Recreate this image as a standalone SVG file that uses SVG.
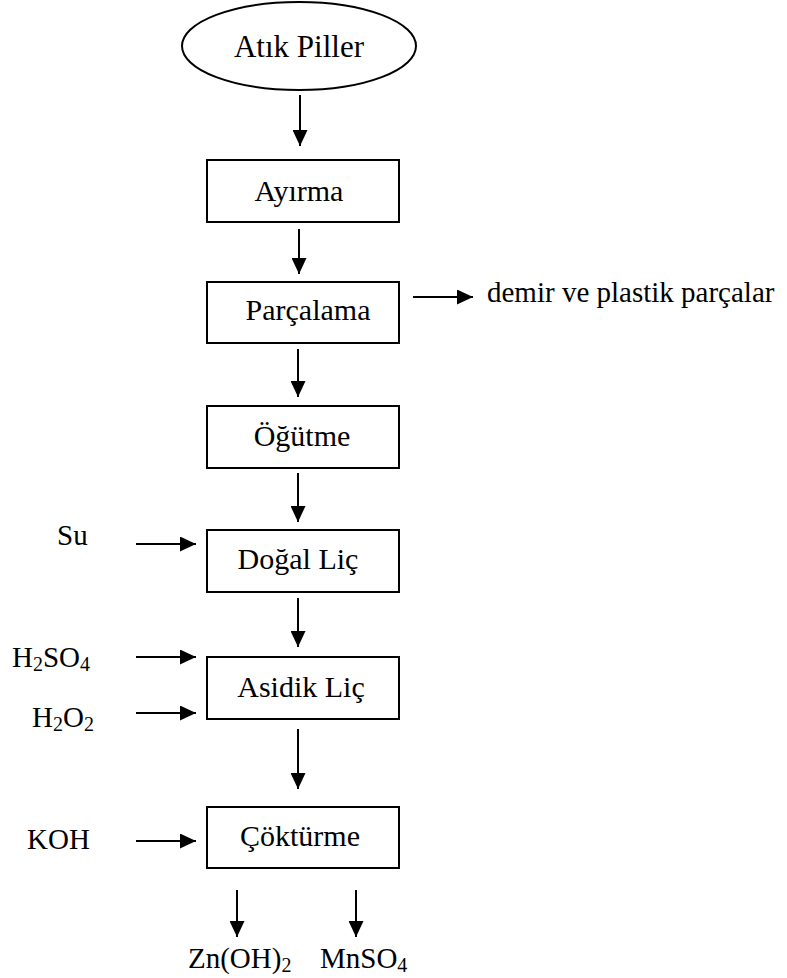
<svg xmlns="http://www.w3.org/2000/svg" width="787" height="978" viewBox="0 0 787 978">
<style>
.box{fill:#fff;stroke:#000;stroke-width:2}
text{font-family:'Liberation Serif','Times New Roman',Times,serif;fill:#000}
.t{font-size:30px}
.lbl{font-size:29px}
.c{stroke:#000;stroke-width:2;fill:none;marker-end:url(#ah)}
</style>
<defs>
<marker id="ah" markerUnits="userSpaceOnUse" markerWidth="17" markerHeight="15" viewBox="0 0 17 15" refX="16" refY="7.5" orient="auto">
<path d="M0,0 L16,7.5 L0,15 z" fill="#000"/>
</marker>
</defs>
<rect width="787" height="978" fill="#fff"/>
<g id="atik-piller">
<ellipse cx="299" cy="46" rx="117" ry="44" class="box"/>
<text x="299" y="57" text-anchor="middle" style="font-size:31px">Atık Piller</text>
</g>
<g id="ayirma">
<rect x="207" y="160" width="192" height="62" class="box"/>
<text x="299" y="201" text-anchor="middle" class="t">Ayırma</text>
</g>
<g id="parcalama">
<rect x="207" y="282" width="192" height="61" class="box"/>
<text x="308" y="320" text-anchor="middle" class="t">Parçalama</text>
</g>
<g id="demir">
<text x="487" y="302" class="lbl">demir ve plastik parçalar</text>
</g>
<g id="ogutme">
<rect x="207" y="406" width="192" height="62" class="box"/>
<text x="302" y="446" text-anchor="middle" class="t">Öğütme</text>
</g>
<g id="dogal-lic">
<rect x="207" y="530" width="192" height="62" class="box"/>
<text x="298" y="569" text-anchor="middle" class="t">Doğal Liç</text>
</g>
<g id="su">
<text x="57" y="545" class="lbl">Su</text>
</g>
<g id="asidik-lic">
<rect x="207" y="657" width="192" height="62" class="box"/>
<text x="301" y="697" text-anchor="middle" class="t">Asidik Liç</text>
</g>
<g id="h2so4">
<text x="12" y="667" class="lbl">H<tspan font-size="20" dy="4">2</tspan><tspan dy="-4">SO</tspan><tspan font-size="20" dy="4">4</tspan></text>
</g>
<g id="h2o2">
<text x="32" y="727" class="lbl">H<tspan font-size="20" dy="4">2</tspan><tspan dy="-4">O</tspan><tspan font-size="20" dy="4">2</tspan></text>
</g>
<g id="cokturme">
<rect x="207" y="807" width="192" height="61" class="box"/>
<text x="300" y="846" text-anchor="middle" class="t">Çöktürme</text>
</g>
<g id="koh">
<text x="27" y="849" class="lbl">KOH</text>
</g>
<g id="znoh2">
<text x="188" y="968" class="lbl">Zn(OH)<tspan font-size="20" dy="4">2</tspan></text>
</g>
<g id="mnso4">
<text x="320" y="968" class="lbl">MnSO<tspan font-size="20" dy="4">4</tspan></text>
</g>
<g id="connectors">
<line x1="300" y1="95" x2="300" y2="146" class="c"/>
<line x1="299" y1="229" x2="299" y2="274" class="c"/>
<line x1="413" y1="297" x2="473" y2="297" class="c"/>
<line x1="298" y1="349" x2="298" y2="397" class="c"/>
<line x1="298" y1="473" x2="298" y2="522" class="c"/>
<line x1="136" y1="544" x2="196" y2="544" class="c"/>
<line x1="298" y1="598" x2="298" y2="647" class="c"/>
<line x1="136" y1="657" x2="196" y2="657" class="c"/>
<line x1="136" y1="713" x2="196" y2="713" class="c"/>
<line x1="298" y1="729" x2="298" y2="789" class="c"/>
<line x1="136" y1="841" x2="196" y2="841" class="c"/>
<line x1="237" y1="890" x2="237" y2="937" class="c"/>
<line x1="356" y1="890" x2="356" y2="937" class="c"/>
</g>
</svg>
